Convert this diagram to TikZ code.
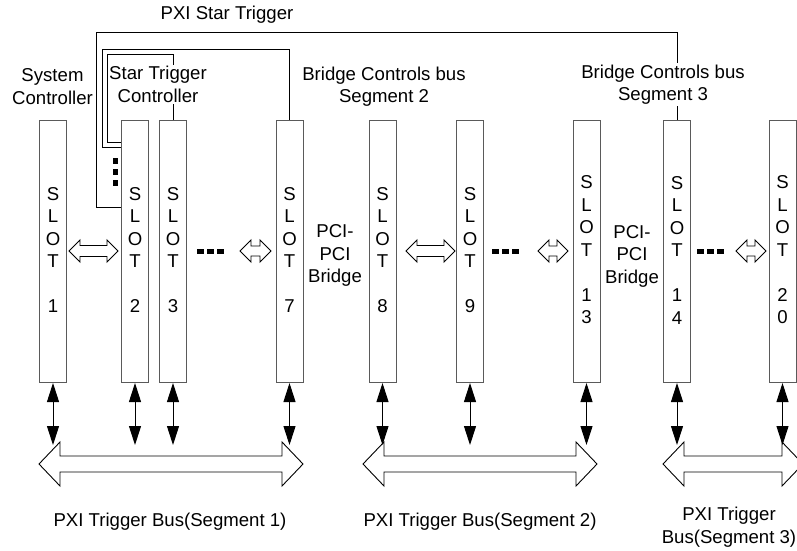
\documentclass[tikz,border=0pt]{standalone}
\usepackage{fontspec}
\setmainfont{Liberation Sans}
\usetikzlibrary{arrows.meta}
\definecolor{slotgray}{RGB}{90,90,90}
\newcommand\hollowdbl[6]{% x1, x2, y, half head, half shaft, head length
  \draw[hollow] (#1,#3) -- (#1+#6,#3-#4) -- (#1+#6,#3-#5) -- (#2-#6,#3-#5) -- (#2-#6,#3-#4) -- (#2,#3)
    -- (#2-#6,#3+#4) -- (#2-#6,#3+#5) -- (#1+#6,#3+#5) -- (#1+#6,#3+#4) -- cycle;}
\begin{document}
\begin{tikzpicture}[x=1pt,y=-1pt,
  slot/.style={draw=slotgray, line width=1pt, minimum width=27pt, minimum height=262pt, anchor=north west, inner sep=0pt},
  lbl/.style={font=\fontsize{18.6pt}{22.5pt}\selectfont, align=center, inner sep=0pt},
  wire/.style={draw=black, line width=1pt},
  hollow/.style={draw=black, fill=white, line width=0.9pt, line join=miter},
  varrow/.style={line width=1pt, {Triangle[width=12pt,length=19pt]}-{Triangle[width=12pt,length=19pt]}},
  dotsq/.style={line width=5pt, dash pattern=on 7pt off 3pt}]
\useasboundingbox (0,0) rectangle (797,550);
% slots
\foreach \n/\x in {1/39,2/121,3/159,7/275.5,8/368.5,9/456,13/572.5,14/663,20/768.5}
  \node[slot] (s\n) at (\x,120) {};
% star trigger wiring
\draw[wire] (s2.west |- 0,207) -- (96,207) -- (96,32) -| (s14.north);
\draw[wire] (s2.west |- 0,147) -- (102,147) -- (102,49) -| (s7.north);
\draw[wire] (s2.west |- 0,142) -- (107,142) -- (107,54) -| (s3.north);
% slot texts
\foreach \n/\t in {1/1,2/2,3/3,7/7,8/8,9/9}
  \node[lbl] (t\n) at (s\n.center |- 0,250) {S\\L\\O\\T\\\strut\\\t};
\foreach \n/\a/\b in {13/1/3,14/1/4,20/2/0}
  \node[lbl] (t\n) at (s\n.center |- 0,250) {S\\L\\O\\T\\\strut\\\a\\\b};
% labels
\node[lbl] (pst) at (227,15) {PXI Star Trigger};
\node[lbl] (sysc) at (52.5,86.5) {System\\Controller};
\node[lbl, fill=white, inner sep=1pt] (stc) at (158,84.5) {Star Trigger\\Controller};
\node[lbl] (bc2) at (384,86.5) {Bridge Controls bus\\Segment 2};
\node[lbl, fill=white, inner sep=1.5pt] (bc3) at (663,84.5) {Bridge Controls bus\\Segment 3};
\node[lbl] (pb1) at (335,255.5) {PCI-\\PCI\\Bridge};
\node[lbl] (pb2) at (632,256) {PCI-\\PCI\\Bridge};
\node[lbl] (tb1) at (170,522) {PXI Trigger Bus(Segment 1)};
\node[lbl] (tb2) at (480,522) {PXI Trigger Bus(Segment 2)};
\node[lbl] (tb3) at (729,527) {PXI Trigger\\Bus(Segment 3)};
% small hollow arrows between slots
\hollowdbl{69}{118}{251}{11}{5.5}{11}
\hollowdbl{240}{271}{251}{11}{5}{11}
\hollowdbl{406}{455}{251}{11}{5.5}{11}
\hollowdbl{538}{568}{251}{11}{5}{11}
\hollowdbl{736}{766}{251}{11}{5}{11}
% dots
\draw[dotsq] (197,251) -- (224,251);
\draw[dotsq] (492,251) -- (520,251);
\draw[dotsq] (697,251) -- (725,251);
\draw[line width=5pt, dash pattern=on 6pt off 5pt] (115,158) -- (115,186);
% trigger buses
\hollowdbl{39}{303}{464}{22}{8}{21}
\hollowdbl{363}{597}{464}{22}{8}{21}
\hollowdbl{663}{803}{464}{22}{8}{21}
% slot to bus arrows
\coordinate (bus) at (0,445);
\foreach \n in {1,2,3,7,8,9,13,14,20}
  \draw[varrow] (s\n.south) -- (s\n.south |- bus);
\end{tikzpicture}
\end{document}
